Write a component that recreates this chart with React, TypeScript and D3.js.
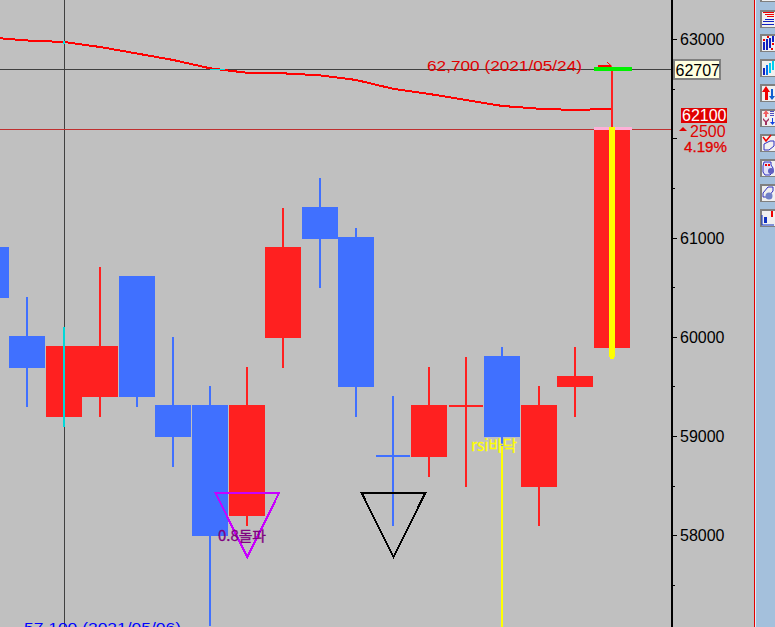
import React from "react";
import * as d3 from "d3";

const W = 775;
const H = 627;

// candle data, one per session (index 0 partly off the left edge)
const opens = [60900, 60000, 59200, 59400, 60600, 59300, 59300, 58200, 60000, 61300, 61000, 58800, 58800, 59300, 59800, 58500, 59500, 59900];
const highs = [60900, 60400, 60100, 60700, 60600, 60000, 59500, 59700, 61300, 61600, 61100, 59400, 59700, 59800, 59900, 59500, 59900, 62700];
const lows = [60400, 59300, 59100, 59200, 59300, 58700, 57100, 58100, 59700, 60500, 59200, 58100, 58600, 58500, 58900, 58100, 59200, 59800];
const closes = [60400, 59700, 59900, 59900, 59400, 59000, 58000, 59300, 60900, 61000, 59500, 58800, 59300, 59300, 59000, 59300, 59600, 62100];
const rising = [false, false, true, true, false, false, false, true, true, false, false, false, true, true, false, true, true, true];
const maValues = [63018, 62988, 62973, 62922, 62857, 62791, 62708, 62663, 62657, 62637, 62590, 62502, 62449, 62388, 62328, 62300, 62287, 62300];

const majorTicks = [58000, 59000, 60000, 61000, 62000, 63000];
const shownMajor = [58000, 59000, 60000, 61000, 63000];
const minorTicks = [57500, 58500, 59500, 60500, 61500, 62500];

const triangles = [
  { index: 7, top: 58430, apex: 57780, color: "#C800FF" },
  { index: 11, top: 58430, apex: 57780, color: "#000000" },
];

const RED = "#FF2020";
const BLUE = "#4070FF";
const BG = "#C0C0C0";

const y = d3.scaleLinear().domain([63000, 58000]).range([39.3, 535.3]);
const x = d3.scaleLinear().domain([1, 17]).range([27.2, 612]);
const bodyLeft = (i: number) => Math.round(x(i) - 18);

const maPath = d3
  .line<number>()
  .x((_, i) => x(i))
  .y((d) => y(d))(maValues) as string;

const mono = "'Liberation Sans', Arial, sans-serif";
const kr = "'Noto Sans CJK KR', sans-serif";

const buttonTops = [-16, 10, 34, 59, 84, 109, 134, 159, 184, 209];

function Icon({ n }: { n: number }) {
  const b = "#1020C0";
  const r = "#F00000";
  const c = "#00D0F0";
  const R = (a: number, t: number, w: number, h: number, f: string) => (
    <rect x={a} y={t} width={w} height={h} fill={f} />
  );
  if (n === 1)
    return (
      <g>
        {R(3, 2, 11, 1, r)}
        {R(5, 4, 9, 1, r)}
        {R(7, 6, 7, 1, r)}
        {R(5, 9, 9, 1, b)}
        {R(3, 11, 11, 1, b)}
        {R(2, 14, 12, 1, b)}
      </g>
    );
  if (n === 2)
    return (
      <g>
        {R(3, 8, 2, 8, b)}
        {R(6, 5, 2, 11, b)}
        {R(9, 4, 2, 10, b)}
        {R(12, 2, 2, 6, b)}
        {R(3, 5, 2, 2, r)}
        {R(7, 2, 2, 2, r)}
        {R(11, 14, 2, 2, r)}
        {R(12, 9, 2, 2, r)}
      </g>
    );
  if (n === 3)
    return (
      <g>
        {R(3, 9, 2, 7, b)}
        {R(6, 6, 2, 10, "#0070F0")}
        {R(9, 4, 2, 10, c)}
        {R(12, 2, 2, 9, c)}
      </g>
    );
  if (n === 4)
    return (
      <g>
        <path d="M6 2l4 6H8v8H5V8H2z" fill={r} />
        {R(11, 5, 2, 9, "#1060D0")}
        <path d="M9 12h6l-3 4z" fill="#1060D0" />
      </g>
    );
  if (n === 5)
    return (
      <g>
        <path d="M6 1l3 4H7v3H5V5H3z" fill="#F06060" />
        <path d="M3 9l3 3 3-3v2l-2 2v3H5v-3L3 11z" fill="#A03060" />
        {R(10, 2, 4, 1, "#5050C0")}
        {R(10, 4, 4, 1, "#5050C0")}
        {R(10, 6, 4, 1, "#5050C0")}
        {R(12, 9, 1, 5, "#1040E0")}
        <path d="M10 13h5l-2.5 3z" fill="#1040E0" />
      </g>
    );
  if (n === 6)
    return (
      <g>
        <path d="M3 3l3 4 5-6" fill="none" stroke={r} strokeWidth={1.5} />
        <path d="M4 10l6-3h4v5l-5 4H4z" fill="none" stroke="#3030C0" />
      </g>
    );
  if (n === 7)
    return (
      <g>
        <path d="M4 3h7v3l2 3v4l-3 3H5l-2-3V7z" fill="#E0E0F8" stroke="#3030C0" />
        {R(5, 5, 2, 2, r)}
        {R(8, 5, 2, 2, r)}
        <circle cx={11} cy={12} r={3} fill="#6060C0" />
      </g>
    );
  if (n === 8)
    return (
      <g>
        <path d="M3 9l5-6h5v4l-5 6H3z" fill="#F0F0F0" stroke="#3030C0" />
        <circle cx={9} cy={12} r={3.5} fill="#7080C8" />
      </g>
    );
  if (n === 9)
    return (
      <g>
        {R(4, 8, 3, 6, "#1030C0")}
        <path d="M2 6v10h12" fill="none" stroke="#1030C0" />
        {R(11, 2, 2, 6, r)}
      </g>
    );
  return null;
}

export default function App() {
  return (
    <svg
      width={W}
      height={H}
      viewBox={`0 0 ${W} ${H}`}
      style={{ position: "absolute", left: 0, top: 0, display: "block" }}
    >
      <rect x={0} y={0} width={W} height={H} fill={BG} />
      <g shapeRendering="crispEdges">
        {/* crosshair and current price lines */}
        <rect x={64} y={0} width={1} height={H} fill="#404040" />
        <rect x={0} y={69} width={671} height={1} fill="#404040" />
        <rect x={0} y={129} width={671} height={1} fill="#C03030" />
      </g>

      {/* moving average */}
      <path d={maPath} fill="none" stroke="#FF0000" strokeWidth={2} shapeRendering="crispEdges" />

      <g shapeRendering="crispEdges">
        <rect x={210} y={68.5} width={15} height={1.5} fill="#00E0E0" />
        <rect x={63} y={41} width={2} height={3} fill="#00E0E0" />

        {opens.map((o, i) => {
          const c = closes[i];
          const color = rising[i] ? RED : BLUE;
          const wickColor = i === 2 ? "#00D8D8" : color;
          const left = bodyLeft(i);
          const top = Math.round(y(Math.max(o, c))) - 1;
          const bottom = Math.round(y(Math.min(o, c))) + 1;
          const wt = Math.round(y(highs[i]));
          const wb = Math.round(y(lows[i])) + 1;
          return (
            <g key={i}>
              <rect x={left + 17} y={wt} width={2} height={wb - wt} fill={color} />
              {o === c ? (
                <rect x={left + 1} y={top} width={34} height={2} fill={color} />
              ) : (
                <rect x={left} y={top} width={36} height={bottom - top} fill={color} />
              )}
              {i === 2 && <rect x={left + 17} y={wt} width={2} height={wb - wt} fill={wickColor} />}
            </g>
          );
        })}

        {/* last candle overlays */}
        <rect x={bodyLeft(17)} y={y(62100) - 2} width={38} height={3} fill="#FFB0D8" />
        <rect x={bodyLeft(17) + 15} y={y(62100) - 2} width={6} height={y(59800) - y(62100) + 2} fill="#FFFF00" />
        <rect x={bodyLeft(17) + 16} y={y(59800)} width={4} height={2} fill="#FFFF00" />
        <rect x={bodyLeft(17)} y={y(62720)} width={38} height={4} fill="#00F000" />
        <rect x={bodyLeft(17) + 4} y={y(62740)} width={13} height={1.5} fill="#FF0000" />
        <rect x={bodyLeft(14) + 17} y={y(58900)} width={2} height={H - y(58900)} fill="#FFFF00" />
      </g>
      <path
        d={`M${bodyLeft(17) + 13} ${y(62770)}L${bodyLeft(17) + 18} ${y(62725)}`}
        stroke="#FF0000"
        fill="none"
      />

      {/* triangle markers */}
      {triangles.map((t, i) => {
        const cx = x(t.index) + 0.8;
        return (
          <path
            key={i}
            d={`M${cx - 32} ${y(t.top)}H${cx + 32}L${cx} ${y(t.apex)}Z`}
            fill="none"
            stroke={t.color}
            strokeWidth={2}
            shapeRendering="crispEdges"
          />
        );
      })}

      {/* labels */}
      <text x={427} y={71} fill="#E00000" fontFamily={mono} fontSize={15} textLength={155} lengthAdjust="spacingAndGlyphs">
        62,700 (2021/05/24)
      </text>
      <text x={24} y={633} fill="#0000FF" fontFamily={mono} fontSize={15} textLength={157} lengthAdjust="spacingAndGlyphs">
        57,100 (2021/05/06)
      </text>
      <text x={218} y={541} fill="#800080" stroke="#800080" strokeWidth={0.3} fontFamily={kr} fontSize={14} textLength={48} lengthAdjust="spacingAndGlyphs">
        0.8돌파
      </text>
      <text x={471} y={451} fill="#FFFF00" stroke="#FFFF00" strokeWidth={0.3} fontFamily={kr} fontSize={15} textLength={46} lengthAdjust="spacingAndGlyphs">
        rsi바닥
      </text>

      {/* price axis */}
      <g shapeRendering="crispEdges">
        <rect x={671} y={0} width={1.5} height={H} fill="#000" />
        {majorTicks.map((t) => (
          <rect key={t} x={672} y={Math.round(y(t))} width={5} height={1} fill="#000" />
        ))}
        {minorTicks.map((t) => (
          <rect key={t} x={672} y={Math.round(y(t))} width={3} height={1} fill="#000" />
        ))}
      </g>
      {shownMajor.map((t) => (
        <text key={t} x={680} y={y(t) + 6} fill="#000" fontFamily={mono} fontSize={16}>
          {t}
        </text>
      ))}

      <rect x={674} y={60} width={46} height={19} fill="#FFFFE0" stroke="#808080" strokeWidth={1.5} shapeRendering="crispEdges" />
      <text x={675.5} y={75.5} fill="#000" fontFamily={mono} fontSize={16}>
        62707
      </text>

      <rect x={681} y={108} width={46} height={15} fill="#E00000" shapeRendering="crispEdges" />
      <text x={682} y={121} fill="#fff" fontFamily={mono} fontSize={16}>
        62100
      </text>
      <path d="M679 131h8l-4-4z" fill="#E00000" />
      <text x={690} y={137} fill="#E00000" fontFamily={mono} fontSize={16}>
        2500
      </text>
      <text x={684} y={152} fill="#E00000" stroke="#E00000" strokeWidth={0.3} fontFamily={mono} fontSize={15} textLength={43} lengthAdjust="spacingAndGlyphs">
        4.19%
      </text>

      {/* side toolbar */}
      <g shapeRendering="crispEdges">
        <rect x={755} y={0} width={20} height={H} fill="#A4C0DC" />
        <rect x={754} y={0} width={1} height={H} fill="#E00000" />
        <rect x={755} y={0} width={1} height={H} fill="#E8E8F0" />
      </g>
      {buttonTops.map((t, i) => (
        <g key={i} transform={`translate(760,${t})`}>
          <rect x={0.75} y={0.75} width={18} height={16.5} fill="#F0F0F0" stroke="#808080" strokeWidth={1.5} shapeRendering="crispEdges" />
          <Icon n={i} />
        </g>
      ))}
    </svg>
  );
}
